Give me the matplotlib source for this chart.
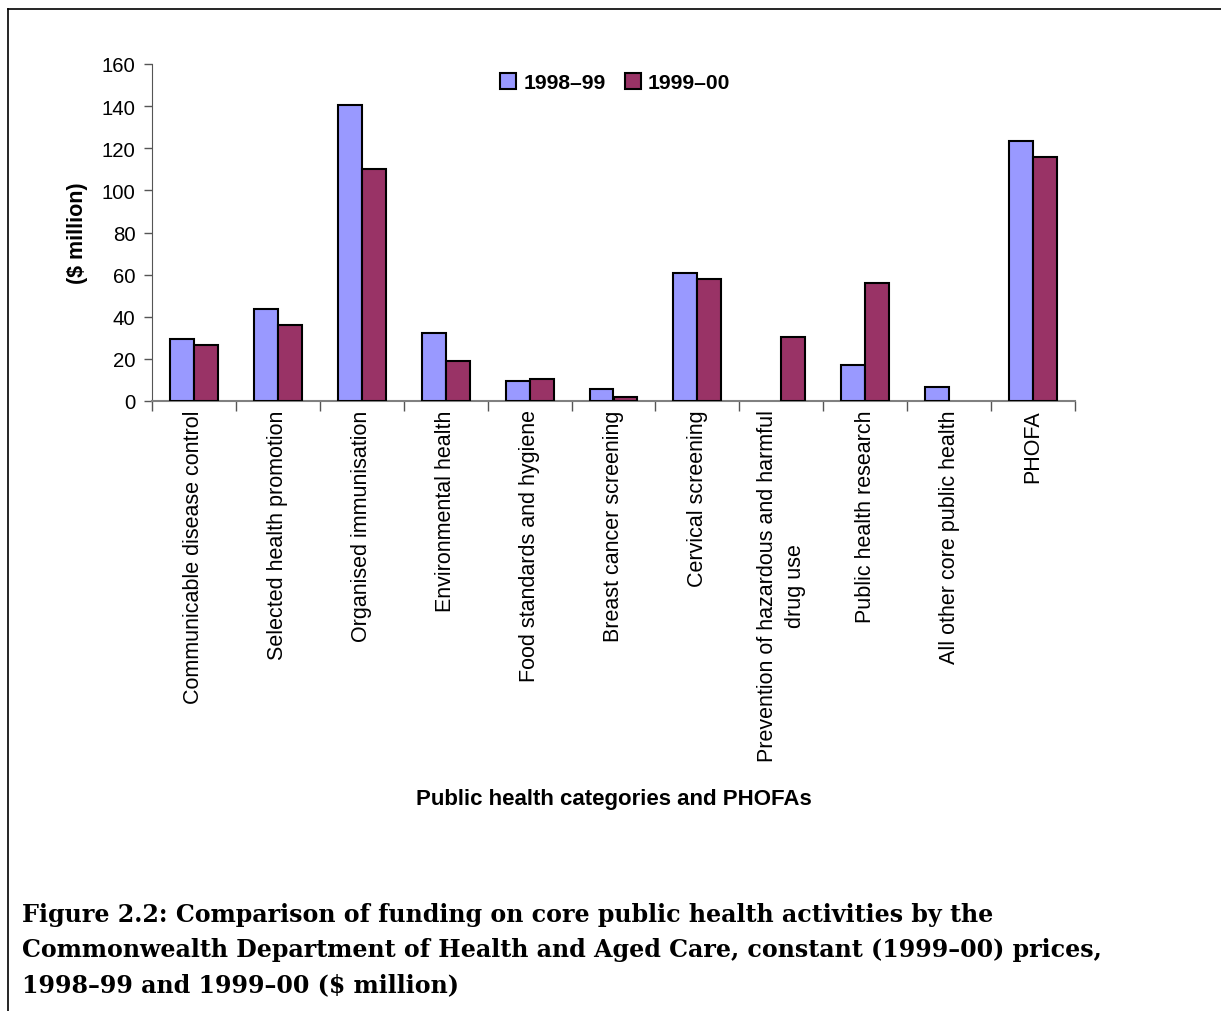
import matplotlib
matplotlib.use("Agg")
import matplotlib.pyplot as plt
from matplotlib.lines import Line2D
import numpy as np

categories = [
    "Communicable disease control",
    "Selected health promotion",
    "Organised immunisation",
    "Environmental health",
    "Food standards and hygiene",
    "Breast cancer screening",
    "Cervical screening",
    "Prevention of hazardous and harmful\ndrug use",
    "Public health research",
    "All other core public health",
    "PHOFA",
]
series_names = ["1998\u201399", "1999\u201300"]
values_1998_99 = [29.4, 43.7, 140.5, 32.3, 9.5, 5.7, 60.8, 0.0, 17.1, 6.5, 123.6]
values_1999_00 = [26.7, 36.1, 110.2, 19.1, 10.4, 1.9, 58.1, 30.5, 55.9, 0.0, 115.9]
yticks = [0, 20, 40, 60, 80, 100, 120, 140, 160]

caption = ("Figure 2.2: Comparison of funding on core public health activities by the\n"
           "Commonwealth Department of Health and Aged Care, constant (1999\u201300) prices,\n"
           "1998\u201399 and 1999\u201300 ($ million)")

plt.rcParams['font.family'] = ['Liberation Sans', 'DejaVu Sans']

W, H = 1221, 1012
fig = plt.figure(figsize=(W / 100, H / 100), dpi=100)
ax = fig.add_axes([152 / W, 1 - 402 / H, (1075 - 152) / W, (402 - 65) / H])

x = np.arange(len(categories))
bw = 0.286
b1 = ax.bar(x - bw / 2, values_1998_99, bw, color="#9999FF", edgecolor="black", linewidth=1.5,
            label=series_names[0], zorder=3)
b2 = ax.bar(x + bw / 2, values_1999_00, bw, color="#993366", edgecolor="black", linewidth=1.5,
            label=series_names[1], zorder=3)
for cont in (b1, b2):
    for p in cont.patches:
        if p.get_height() == 0:
            p.set_visible(False)

ax.set_xlim(-0.5, len(categories) - 0.5)
ax.set_ylim(0, 160)
ax.set_yticks(yticks)
ax.set_yticklabels([str(v) for v in yticks], fontsize=14.7)
ax.tick_params(axis='y', length=6, width=1, color='#555555', pad=6)

ax.set_xticks(np.arange(len(categories) + 1) - 0.5, minor=False)
ax.set_xticklabels([])
ax.tick_params(axis='x', which='major', length=7, width=1, color='#555555', direction='out')
ax.set_xticks(x, minor=True)
labels = ax.set_xticklabels(categories, minor=True, rotation=90, fontsize=15.5,
                            ha='center', va='top', multialignment='center')
for t in labels:
    t.set_linespacing(1.45)
ax.tick_params(axis='x', which='minor', length=0, pad=6)

for s in ['top', 'right']:
    ax.spines[s].set_visible(False)
ax.spines['left'].set_color('#555555')
ax.spines['bottom'].set_color('#808080')
ax.spines['bottom'].set_linewidth(1.5)

ax.set_ylabel("($ million)", fontsize=15.5, fontweight='bold', labelpad=10)

leg = ax.legend(loc='center', bbox_to_anchor=(0.502, 0.944), ncol=2, frameon=False,
                prop={'weight': 'bold', 'size': 15.2},
                handlelength=0.75, handleheight=0.75, handletextpad=0.35, columnspacing=0.9)

fig.text(614 / W, 1 - 800 / H, "Public health categories and PHOFAs", ha='center', va='center',
         fontsize=16, fontweight='bold')

fig.text(22 / W, 1 - 950 / H, caption, ha='left', va='center', fontsize=17.1,
         fontweight='bold', family=['DejaVu Serif'], linespacing=1.6)

fig.add_artist(Line2D([8 / W, 1.0], [1 - 10 / H, 1 - 10 / H], color='black', linewidth=1.2))
fig.add_artist(Line2D([8 / W, 8 / W], [1 - 10 / H, 0.0], color='black', linewidth=1.2))

fig.savefig("out.png", dpi=100)
